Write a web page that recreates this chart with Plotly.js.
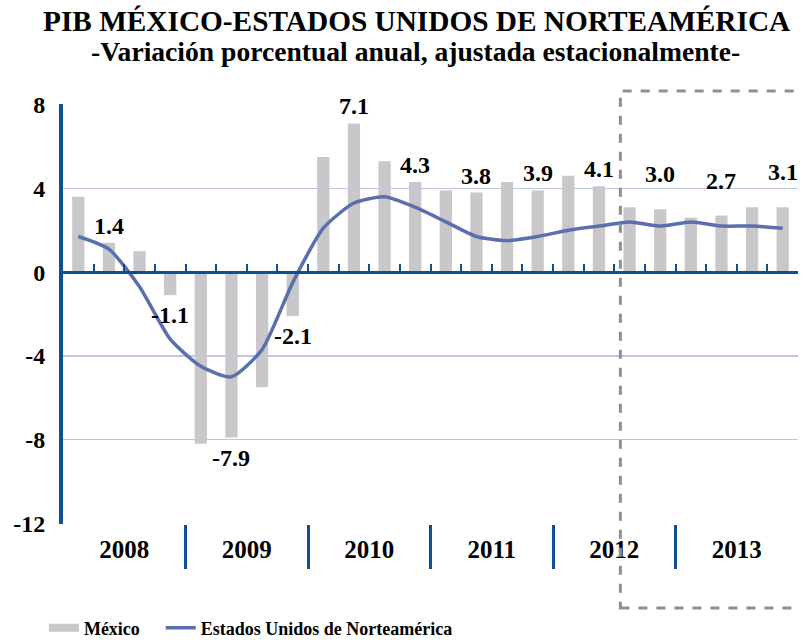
<!DOCTYPE html>
<html>
<head>
<meta charset="utf-8">
<script src="https://cdn.plot.ly/plotly-3.0.1.min.js"></script>
<style>html,body{margin:0;padding:0;background:#fff}#chart{width:803px;height:641px}</style>
</head>
<body>
<div id="chart"></div>
<script>
// ---- data ----
var years = ['2008', '2009', '2010', '2011', '2012', '2013'];
var quarters = ['T1', 'T2', 'T3', 'T4'];
var mexico = [3.6, 1.4, 1.0, -1.1, -8.2, -7.9, -5.5, -2.1, 5.5, 7.1, 5.3, 4.3, 3.9, 3.8, 4.3, 3.9, 4.6, 4.1, 3.1, 3.0, 2.6, 2.7, 3.1, 3.1];
var usa = [1.7, 1.1, -0.7, -3.2, -4.5, -5.0, -3.7, -0.5, 2.1, 3.3, 3.6, 3.1, 2.4, 1.7, 1.5, 1.7, 2.0, 2.2, 2.4, 2.2, 2.4, 2.2, 2.2, 2.1];
var labelQuarterIdx = [1, 3, 5, 7, 9, 11, 13, 15, 17, 19, 21, 23];
var labelValues = [1.4, -1.1, -7.9, -2.1, 7.1, 4.3, 3.8, 3.9, 4.1, 3.0, 2.7, 3.1];
var yTicks = [-12, -8, -4, 0, 4, 8];
var yTickText = ['-12', '-8', '-4', '0', '4', '8'];
var seriesNames = ['México', 'Estados Unidos de Norteamérica'];
var titleText = 'PIB MÉXICO-ESTADOS UNIDOS DE NORTEAMÉRICA';
var subtitleText = '-Variación porcentual anual, ajustada estacionalmente-';

// ---- derived ----
var qLabels = [];
years.forEach(function (y) { quarters.forEach(function (q) { qLabels.push(y + ' ' + q); }); });
var xIdx = qLabels.map(function (_, i) { return i; });
var nQ = quarters.length;
var yearCenters = years.map(function (_, k) { return k * nQ + (nQ - 1) / 2; });
var yearBounds = years.slice(1).map(function (_, k) { return (k + 1) * nQ - 0.5; });
var qBounds = xIdx.map(function (i) { return i + 0.5; });

var BLUE = '#0d4f92';
var SERIF = 'Liberation Serif';
function F(size) { return { family: SERIF, size: size, color: '#000', weight: 'bold' }; }

var traces = [
  {
    type: 'bar', x: xIdx, y: mexico, name: seriesNames[0], showlegend: false,
    marker: { color: '#c8c8ca' }, hoverinfo: 'skip'
  },
  {
    type: 'scatter', mode: 'lines', x: [null], y: [null], name: seriesNames[0],
    xaxis: 'x3', legend: 'legend', line: { color: '#c8c8ca', width: 8 }, hoverinfo: 'skip'
  },
  {
    type: 'scatter', mode: 'lines', x: xIdx, y: usa, name: seriesNames[1],
    xaxis: 'x2', legend: 'legend2',
    line: { color: '#5b6ead', width: 3.5, shape: 'spline', smoothing: 0.6 }, hoverinfo: 'skip'
  }
];

var annotations = labelQuarterIdx.map(function (qi, k) {
  var v = labelValues[k];
  var shift = v < 0 ? -20 : (qi >= 19 ? 35 : 17);
  return {
    x: qi, y: v, xref: 'x', yref: 'y', text: v.toFixed(1), showarrow: false,
    yshift: shift, xanchor: 'center', yanchor: 'middle', font: F(24)
  };
});
annotations.push({
  text: titleText, xref: 'paper', yref: 'paper', x: 0.481, y: 1.1976,
  xanchor: 'center', yanchor: 'middle', showarrow: false, font: F(29.3)
});
annotations.push({
  text: subtitleText, xref: 'paper', yref: 'paper', x: 0.4796, y: 1.124,
  xanchor: 'center', yanchor: 'middle', showarrow: false, font: F(27.6)
});

var xRange = [-0.5, xIdx.length - 0.5];

var legendBase = {
  orientation: 'h', xanchor: 'left', yref: 'container', y: 0.0203, yanchor: 'middle',
  font: F(18), bgcolor: 'rgba(0,0,0,0)', itemclick: false
};
var legend1 = Object.assign({}, legendBase, { x: -0.026 });
var legend2 = Object.assign({}, legendBase, { x: 0.133 });

var layout = {
  width: 803, height: 641,
  margin: { l: 63, r: 5, t: 104, b: 117 },
  paper_bgcolor: '#fff', plot_bgcolor: '#fff',
  bargap: 0.6,
  showlegend: true,
  xaxis: {
    range: xRange, tickmode: 'array', tickvals: yearCenters, ticktext: years,
    ticks: 'outside', ticklen: 3, tickcolor: 'rgba(0,0,0,0)',
    showgrid: false, zeroline: false, showline: false, tickfont: F(25)
  },
  xaxis2: {
    overlaying: 'x', anchor: 'free', position: 0.6, range: xRange,
    tickmode: 'array', tickvals: qBounds, ticks: 'inside', ticklen: 7, tickwidth: 2,
    tickcolor: BLUE, showline: true, linecolor: BLUE, linewidth: 3,
    showticklabels: false, showgrid: false, zeroline: false
  },
  xaxis3: {
    overlaying: 'x', anchor: 'y', side: 'bottom', range: xRange,
    tickmode: 'array', tickvals: yearBounds, ticks: 'outside', ticklen: 44, tickwidth: 3,
    tickcolor: BLUE, showline: false, showticklabels: false, showgrid: false, zeroline: false
  },
  yaxis: {
    range: [-12.03, 8.03], tickmode: 'array', tickvals: yTicks, ticktext: yTickText,
    ticks: 'outside', ticklen: 9, tickcolor: 'rgba(0,0,0,0)',
    showgrid: true, gridcolor: '#bfc5e4', gridwidth: 1.5, zeroline: false,
    showline: true, linecolor: BLUE, linewidth: 4, tickfont: F(24)
  },
  legend: legend1,
  legend2: legend2,
  annotations: annotations,
  shapes: [{
    type: 'rect', xref: 'x', yref: 'paper', x0: 17.7, x1: 23.55, y0: -0.2, y1: 1.031,
    line: { color: '#8f8f8f', width: 3, dash: 'dash' }, fillcolor: 'rgba(0,0,0,0)', layer: 'above'
  }]
};

Plotly.newPlot('chart', traces, layout, { staticPlot: true, displayModeBar: false });
</script>
</body>
</html>
